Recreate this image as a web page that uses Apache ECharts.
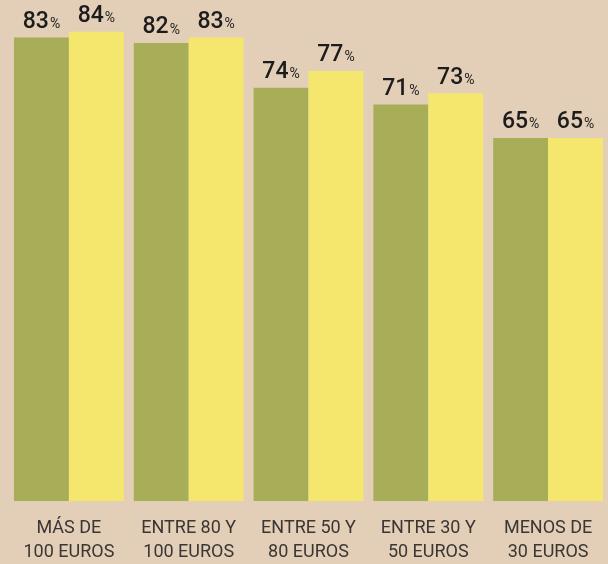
<!DOCTYPE html>
<html>
<head>
<meta charset="utf-8">
<script src="https://cdn.jsdelivr.net/npm/echarts@6/dist/echarts.min.js"></script>
<style>
  html, body { margin: 0; padding: 0; background: #e3cfb8; }
  #chart { width: 608px; height: 564px; }
</style>
</head>
<body>
<div id="chart"></div>
<script>
// categorías de gasto
var categories = [
  "MÁS DE\n100 EUROS",
  "ENTRE 80 Y\n100 EUROS",
  "ENTRE 50 Y\n80 EUROS",
  "ENTRE 30 Y\n50 EUROS",
  "MENOS DE\n30 EUROS"
];
var serieVerde = [83, 82, 74, 71, 65];
var serieAmarilla = [84, 83, 77, 73, 65];

var chart = echarts.init(document.getElementById("chart"));

var etiqueta = {
  show: true,
  position: "top",
  distance: 4,
  formatter: "{n|{c}}{p|%}",
  rich: {
    n: { fontFamily: "Roboto", fontSize: 23, fontWeight: 500, color: "#1c1c1c" },
    p: { fontFamily: "Roboto", fontSize: 14, color: "#1c1c1c", padding: [5, 0, 0, 1] }
  }
};

var option = {
  backgroundColor: "#e3cfb8",
  animation: false,
  grid: { left: 9, width: 600, top: 0, bottom: 63 },
  xAxis: {
    type: "category",
    data: categories,
    axisLine: { show: false },
    axisTick: { show: false },
    axisLabel: {
      interval: 0,
      hideOverlap: false,
      margin: 15,
      fontFamily: "Roboto",
      fontSize: 18,
      lineHeight: 24,
      color: "#3a3633"
    }
  },
  yAxis: {
    type: "value",
    min: 0,
    max: 89.7,
    show: false
  },
  series: [
    {
      name: "verde",
      type: "bar",
      data: serieVerde,
      barGap: "0%",
      barCategoryGap: "8.33%",
      itemStyle: { color: "#a8ad58" },
      label: etiqueta
    },
    {
      name: "amarilla",
      type: "bar",
      data: serieAmarilla,
      itemStyle: { color: "#f5e76e" },
      label: etiqueta
    }
  ]
};

chart.setOption(option);
</script>
</body>
</html>
